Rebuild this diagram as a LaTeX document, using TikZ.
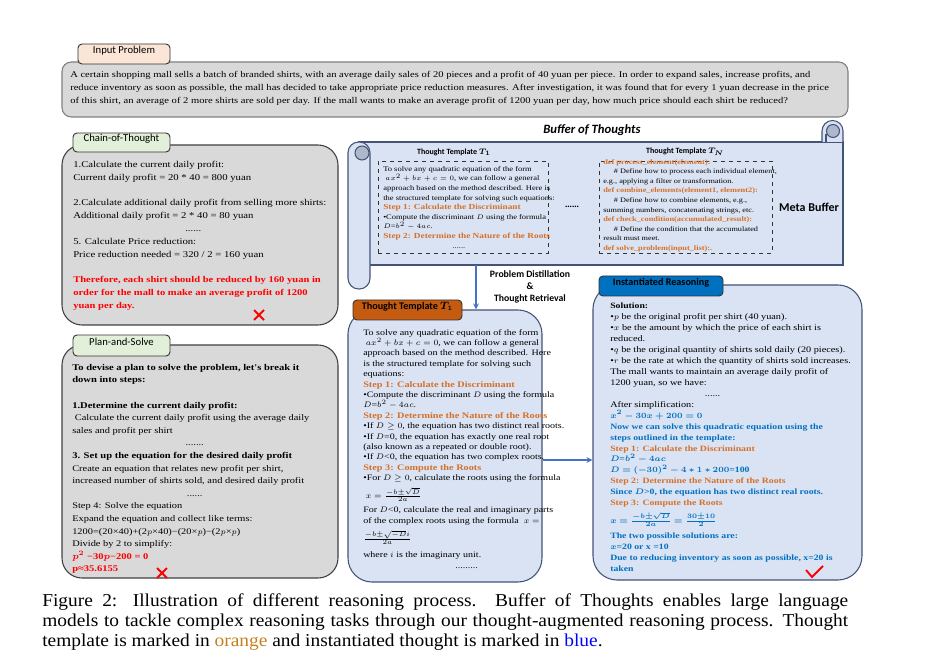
\documentclass[tikz,border=0pt]{standalone}
\usepackage{fontspec}
\usepackage{bm}
\setmainfont{Liberation Serif}
\newfontfamily\wideserif[FakeStretch=1.2]{Liberation Serif}
\newfontfamily\capserif[FakeStretch=1.07]{Liberation Serif}
\newfontfamily\labelfont{Carlito}
\usetikzlibrary{calc, fit}

\definecolor{boxgray}{RGB}{217,217,217}
\definecolor{bluefill}{RGB}{218,227,243}
\definecolor{blueline}{RGB}{68,84,120}
\definecolor{curlfill}{RGB}{173,185,202}
\definecolor{tabgreen}{RGB}{226,240,217}
\definecolor{tabpeach}{RGB}{251,229,214}
\definecolor{taborange}{RGB}{197,90,17}
\definecolor{tabblue}{RGB}{0,112,192}
\definecolor{steporange}{RGB}{214,112,40}
\definecolor{solblue}{RGB}{0,112,192}
\definecolor{arrowblue}{RGB}{68,114,196}
\definecolor{caporange}{RGB}{196,128,30}

% bold text size of the current box is kept in \bsz
\newcommand\bsz{7}
\newcommand\bd[1]{{\fontsize{\bsz}{\baselineskip}\selectfont\bfseries #1}}
\newcommand\stepo[1]{{\fontsize{\bsz}{\baselineskip}\selectfont\bfseries\color{steporange}#1}}
\newcommand\solb[1]{{\fontsize{\bsz}{\baselineskip}\selectfont\bfseries\color{solblue}#1}}
\newcommand\redb[1]{{\fontsize{\bsz}{\baselineskip}\selectfont\bfseries\color{red}#1}}

\begin{document}
\begin{tikzpicture}[x=0.75pt, y=-0.75pt, >=stealth]

	% --- Stili ---
	\tikzset{
		graybox/.style={draw=black!75, line width=0.8pt, fill=boxgray, rounded corners=15pt, inner sep=0pt},
		inbox/.style={graybox, draw=black!50, rounded corners=7pt},
		bluebox/.style={draw=blueline, line width=0.8pt, fill=bluefill, rounded corners=18pt, inner sep=0pt},
		tab/.style={draw=black!80, line width=0.7pt, rounded corners=3pt, inner sep=0pt, font=\labelfont\fontsize{8}{9}\selectfont},
		scrollline/.style={draw=blueline, line width=0.8pt},
		dashbox/.style={draw=black!80, dashed, line width=0.6pt, inner sep=0pt},
		txt/.style={anchor=north west, inner sep=0pt, align=left},
		probtxt/.style={txt, font=\wideserif\fontsize{6.6}{9.75}\selectfont},
		sidetxt/.style={txt, font=\wideserif\fontsize{6.7}{9.6}\selectfont\def\bsz{6.6}},
		plantxt/.style={txt, font=\wideserif\fontsize{6.5}{9.45}\selectfont\def\bsz{6.6}},
		tmpltxt/.style={txt, font=\wideserif\fontsize{6.25}{7.8}\selectfont\def\bsz{6.4}},
		insttxt/.style={txt, font=\wideserif\fontsize{6.4}{8.2}\selectfont\def\bsz{6.1}},
		metatxt/.style={txt, font=\wideserif\fontsize{5.3}{7.2}\selectfont\def\bsz{5.8}},
		head/.style={inner sep=0pt, font=\labelfont\bfseries\fontsize{6}{7}\selectfont},
		flow/.style={->, draw=arrowblue, line width=1pt},
		wrong/.style={red, line width=1.4pt},
	}

	\useasboundingbox (0,0) rectangle (925,670);

	% --- Input Problem ---
	\node[inbox, fit={(62,62) (848,117)}] (inbox) {};
	\node[tab, fill=tabpeach, fit={(78,44) (170,64)}] (intab) {Input Problem};
	\node[probtxt] (intxt) at (70,71) {A certain shopping mall sells a batch of branded shirts, with an average daily sales of 20 pieces and a profit of 40 yuan per piece. In order to expand sales, increase profits, and\\
		reduce inventory as soon as possible, the mall has decided to take appropriate price reduction measures. After investigation, it was found that for every 1 yuan decrease in the price\\
		of this shirt, an average of 2 more shirts are sold per day. If the mall wants to make an average profit of 1200 yuan per day, how much price should each shirt be reduced?};

	% --- Chain-of-Thought ---
	\node[graybox, fit={(62,145) (338,325)}] (cot) {};
	\node[tab, fill=tabgreen, fit={(73,133) (170,152)}] (cottab) {Chain-of-Thought};
	\node[sidetxt] (cottxt) at (73,161) {1.Calculate the current daily profit:\\
		Current daily profit = 20 * 40 = 800 yuan\\[9.6pt]
		2.Calculate additional daily profit from selling more shirts:\\
		Additional daily profit = 2 * 40 = 80 yuan\\
		\hspace*{84pt}......\\
		5. Calculate Price reduction:\\
		Price reduction needed = 320 / 2 = 160 yuan\\[9.6pt]
		\redb{Therefore, each shirt should be reduced by 160 yuan in}\\
		\redb{order for the mall to make an average profit of 1200}\\
		\redb{yuan per day.}};
	\draw[wrong] (254,310) -- (264,320) (254,320) -- (264,310);

	% --- Plan-and-Solve ---
	\node[graybox, fit={(62,345) (338,578)}] (ps) {};
	\node[tab, fill=tabgreen, fit={(73,335) (170,356)}] (pstab) {Plan-and-Solve};
	\node[plantxt] (pstxt) at (72,364) {\bd{To devise a plan to solve the problem, let's break it}\\
		\bd{down into steps:}\\[9.45pt]
		\bd{1.Determine the current daily profit:}\\
		\ Calculate the current daily profit using the average daily\\
		sales and profit per shirt\\
		\hspace*{85pt}.......\\
		\bd{3. Set up the equation for the desired daily profit}\\
		Create an equation that relates new profit per shirt,\\
		increased number of shirts sold, and desired daily profit\\
		\hspace*{86pt}......\\
		Step 4: Solve the equation\\
		Expand the equation and collect like terms:\\
		1200=(20×40)+(2$p$×40)−(20×$p$)−(2$p$×$p$)\\
		Divide by 2 to simplify:\\
		\redb{$\bm{p^2}$ −30$\bm{p}$−200 = 0}\\
		\redb{p≈35.6155}};
	\draw[wrong] (157,568) -- (167,578) (157,578) -- (167,568);

	% --- Buffer of Thoughts (scroll) ---
	\node[inner sep=0pt, font=\labelfont\bfseries\itshape\fontsize{9.5}{11}\selectfont] (boftitle) at (592,130) {Buffer of Thoughts};
	\draw[scrollline, fill=bluefill] (359,142) -- (843,142) -- (843,265) -- (359,265) -- cycle;
	\draw[scrollline, fill=bluefill] (822,142) -- (822,131) arc[start angle=180, end angle=360, radius=10.5] -- (843,142);
	\draw[scrollline, fill=curlfill] (833,131) circle (6.5);
	\draw[scrollline] (826,134) -- (826,142);
	\draw[scrollline, fill=bluefill, rounded corners=8pt] (348,142) rectangle (370,289);
	\draw[scrollline, fill=curlfill] (362,153) circle (7);

	\node[head] (t1head) at (454,152) {Thought Template $\bm{T_1}$};
	\node[dashbox, fit={(378,161) (548,253)}] (t1dash) {};
	\node[metatxt] (t1meta) at (383,166) {To solve any quadratic equation of the form\\
		\ $ax^2+bx+c=0$, we can follow a general\\
		approach based on the method described. Here is\\
		the structured template for solving such equations:\\
		\stepo{Step 1: Calculate the Discriminant}\\
		•Compute the discriminant $D$ using the formula\\
		$D$=$b^2-4ac$.\\
		\stepo{Step 2: Determine the Nature of the Roots}\\
		\hspace*{52pt}......};
	\node[inner sep=0pt, font=\bfseries\fontsize{7}{8}\selectfont] (metadots) at (572,207) {......};
	\node[head] (tnhead) at (685,152) {Thought Template $\bm{T_N}$};
	\node[dashbox, fit={(599,161) (772,253)}] (tndash) {};
	\node[metatxt, font=\wideserif\fontsize{5.15}{7.2}\selectfont\def\bsz{5.2}] (tnmeta) at (603,159) {\stepo{def process\_element(element):}\\
		\hspace*{8pt}\# Define how to process each individual element,\\
		e.g., applying a filter or transformation.\\
		\stepo{def combine\_elements(element1, element2):}\\
		\hspace*{8pt}\# Define how to combine elements, e.g.,\\
		summing numbers, concatenating strings, etc.\\
		\stepo{def check\_condition(accumulated\_result):}\\
		\hspace*{8pt}\# Define the condition that the accumulated\\
		result must meet.\\
		\stepo{def solve\_problem(input\_list):.}};
	\node[inner sep=0pt, font=\labelfont\bfseries\fontsize{9}{10}\selectfont] (metabuf) at (809,207) {Meta Buffer};

	\node[inner sep=0pt, align=center, font=\labelfont\bfseries\fontsize{7.3}{9.3}\selectfont] (distil) at (530,287) {Problem Distillation\\ \&\\ Thought Retrieval};

	% --- Thought Template T1 ---
	\node[bluebox, fit={(348,310) (542,582)}] (tt1box) {};
	\node[tab, fill=taborange, fit={(353,300) (462,320)}, font=\labelfont\bfseries\fontsize{7.6}{9}\selectfont] (tt1tab) {Thought Template $\bm{T_1}$};
	\node[tmpltxt] (tt1txt) at (363,329) {To solve any quadratic equation of the form\\
		\ $ax^2+bx+c=0$, we can follow a general\\
		approach based on the method described. Here\\
		is the structured template for solving such\\
		equations:\\
		\stepo{Step 1: Calculate the Discriminant}\\
		•Compute the discriminant $D$ using the formula\\
		$D$=$b^2-4ac$.\\
		\stepo{Step 2: Determine the Nature of the Roots}\\
		•If $D\geq0$, the equation has two distinct real roots.\\
		•If $D$=0, the equation has exactly one real root\\
		(also known as a repeated or double root).\\
		•If $D$<0, the equation has two complex roots.\\
		\stepo{Step 3: Compute the Roots}\\
		•For $D\geq0$, calculate the roots using the formula\\[3pt]
		\ $x=\frac{-b\pm\sqrt{D}}{2a}$\\[3pt]
		For $D$<0, calculate the real and imaginary parts\\
		of the complex roots using the formula \ $x=$\\[3pt]
		$\frac{-b\pm\sqrt{-D}i}{2a}$\\[4.5pt]
		where $i$ is the imaginary unit.\\
		\hspace*{69pt}.........};

	% --- Instantiated Reasoning ---
	\node[bluebox, fit={(593,285) (862,580)}] (irbox) {};
	\node[tab, fill=tabblue, fit={(599,276) (723,296)}, font=\labelfont\bfseries\fontsize{7.6}{9}\selectfont] (irtab) {Instantiated Reasoning};
	\node[insttxt] (irtxt) at (610,303) {\bd{Solution:}\\
		•$p$ be the original profit per shirt (40 yuan).\\
		•$x$ be the amount by which the price of each shirt is\\
		reduced.\\
		•$q$ be the original quantity of shirts sold daily (20 pieces).\\
		•$r$ be the rate at which the quantity of shirts sold increases.\\
		The mall wants to maintain an average daily profit of\\
		1200 yuan, so we have:\\
		\hspace*{71pt}......\\
		After simplification:\\
		\solb{$\bm{x^2-30x+200=0}$}\\
		\solb{Now we can solve this quadratic equation using the}\\
		\solb{steps outlined in the template:}\\
		\stepo{Step 1: Calculate the Discriminant}\\
		\solb{$\bm{D}$=$\bm{b^2-4ac}$}\\
		\solb{$\bm{D=(-30)^2-4*1*200}$=100}\\
		\stepo{Step 2: Determine the Nature of the Roots}\\
		\solb{Since $\bm{D}$>0, the equation has two distinct real roots.}\\
		\stepo{Step 3: Compute the Roots}\\[2.5pt]
		\solb{$\bm{x=\frac{-b\pm\sqrt{D}}{2a}=\frac{30\pm10}{2}}$}\\[3pt]
		\solb{The two possible solutions are:}\\
		\solb{$\bm{x}$=20 or x =10}\\
		\solb{Due to reducing inventory as soon as possible, x=20 is}\\
		\solb{taken}};
	\draw[red, line width=1.4pt] (806,570) -- (812,577) -- (823,566);

	% --- Frecce ---
	\coordinate (distilfrom) at (476,265);
	\draw[flow] (distilfrom) -- (distilfrom |- tt1box.north);
	\draw[flow] ($(tt1box.east)+(0,14)$) coordinate (tt1out) -- (tt1out -| irbox.west);

	% --- Didascalia ---
	\node[txt, text width=604.5pt, align=justify, font=\capserif\fontsize{13.6}{15}\selectfont] (caption) at (42,593) {Figure 2: Illustration of different reasoning process.\ \ Buffer of Thoughts enables large language\linebreak
		models to tackle complex reasoning tasks through our thought-augmented reasoning process. Thought\linebreak
		template is marked in {\color{caporange}orange} and instantiated thought is marked in {\color{blue}blue}.};

\end{tikzpicture}
\end{document}
